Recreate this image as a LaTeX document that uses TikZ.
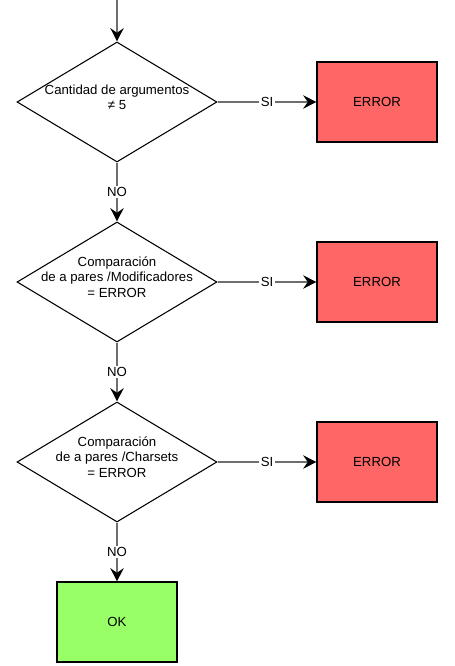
\documentclass[tikz,border=0pt]{standalone}
\usepackage{fontspec}
\setmainfont{Liberation Sans}
\definecolor{fcError}{HTML}{FF6666}
\definecolor{fcOk}{HTML}{99FF66}
\definecolor{fcLine}{HTML}{6E6E6E}
\usetikzlibrary{positioning,arrows.meta,shapes.geometric}
\newcommand{\dtext}[1]{\makebox[0pt]{\raisebox{0pt}[0pt][0pt]{\begin{tabular}{@{}c@{}}#1\end{tabular}}}}

\begin{document}
\begin{tikzpicture}[x=0.75pt, y=-0.75pt,
  decision/.style={diamond, draw=black, fill=white, line width=0.8pt,
    minimum width=150pt, minimum height=90pt, inner sep=0pt,
    font=\fontsize{9.9}{11.6}\selectfont},
  result/.style={rectangle, draw=black, line width=0.8pt,
    minimum width=90pt, minimum height=60pt, font=\fontsize{9.9}{11.6}\selectfont},
  lbl/.style={fill=white, text=black, inner sep=1pt, font=\fontsize{9.9}{11.6}\selectfont},
  arr/.style={-{Stealth[length=10pt, width=10pt, inset=3.5pt, color=black]},
    line width=1pt, color=fcLine}
]
  \useasboundingbox (0,0) rectangle (454,666);

  \coordinate (start) at (117,0);
  \node[decision] (args) at (117,102) {\dtext{Cantidad de argumentos\\≠ 5}};
  \node[decision] (mods) at (117,282) {\dtext{Comparación\\de a pares /Modificadores\\= ERROR}};
  \node[decision] (chars) at (117,462) {\dtext{Comparación\\de a pares /Charsets\\= ERROR}};
  \node[result, fill=fcError] (err1) at (377,102) {ERROR};
  \node[result, fill=fcError] (err2) at (377,282) {ERROR};
  \node[result, fill=fcError] (err3) at (377,462) {ERROR};
  \node[result, fill=fcOk] (ok) at (117,622) {OK};

  \draw[arr] (start) -- (args);
  \draw[arr] (args) -- node[lbl] {SI} (err1);
  \draw[arr] (args) -- node[lbl] {NO} (mods);
  \draw[arr] (mods) -- node[lbl] {SI} (err2);
  \draw[arr] (mods) -- node[lbl] {NO} (chars);
  \draw[arr] (chars) -- node[lbl] {SI} (err3);
  \draw[arr] (chars) -- node[lbl] {NO} (ok);
\end{tikzpicture}
\end{document}
